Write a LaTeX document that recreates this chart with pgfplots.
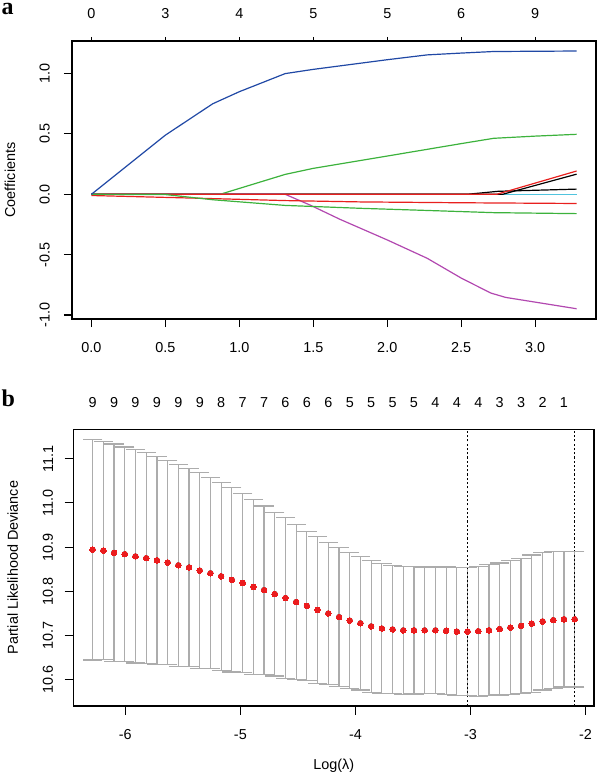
\documentclass[border=0pt]{standalone}
\usepackage{pgfplots}
\pgfplotsset{compat=1.18}
\usepackage{pgfplotstable}
\usepackage{fontspec}
\setmainfont{Liberation Sans}
\newfontfamily\panelfont{Liberation Serif}
\definecolor{cblue}{RGB}{32,72,165}
\definecolor{cgreen}{RGB}{60,178,60}
\definecolor{cred}{RGB}{232,32,30}
\definecolor{cmag}{RGB}{178,72,176}
\definecolor{ccyan}{RGB}{80,196,222}
\definecolor{errgray}{RGB}{172,172,172}
\definecolor{dotred}{RGB}{235,28,30}

\pgfplotstableread{
x m e
-6.284 10.894 0.249
-6.191 10.892 0.246
-6.098 10.887 0.246
-6.005 10.884 0.242
-5.912 10.879 0.241
-5.818 10.875 0.238
-5.725 10.870 0.235
-5.632 10.865 0.231
-5.539 10.859 0.228
-5.446 10.854 0.224
-5.353 10.847 0.221
-5.260 10.841 0.216
-5.167 10.834 0.212
-5.074 10.826 0.208
-4.980 10.819 0.202
-4.887 10.810 0.198
-4.794 10.803 0.190
-4.701 10.794 0.185
-4.608 10.785 0.181
-4.515 10.776 0.175
-4.422 10.767 0.169
-4.329 10.758 0.166
-4.236 10.750 0.161
-4.142 10.742 0.157
-4.049 10.734 0.154
-3.956 10.728 0.151
-3.863 10.721 0.149
-3.770 10.716 0.147
-3.677 10.714 0.145
-3.584 10.712 0.145
-3.491 10.712 0.144
-3.398 10.712 0.143
-3.304 10.712 0.143
-3.211 10.711 0.144
-3.118 10.709 0.145
-3.025 10.709 0.145
-2.932 10.710 0.147
-2.839 10.712 0.148
-2.746 10.715 0.149
-2.653 10.718 0.151
-2.560 10.722 0.153
-2.467 10.727 0.155
-2.373 10.732 0.155
-2.280 10.735 0.155
-2.187 10.737 0.153
-2.094 10.737 0.153
}\cvdata

\begin{document}
\begin{tikzpicture}[font=\fontsize{10.8}{13}\selectfont]
\path[use as bounding box] (0,0) rectangle (447.75pt,-581.25pt);

% ---------------- panel a ----------------
\begin{axis}[
  at={(54pt,-239.25pt)}, anchor=south west,
  width=393pt, height=208.5pt, scale only axis,
  xmin=-0.1312, xmax=3.4112, ymin=-1.033, ymax=1.27,
  axis line style={line width=0.8pt},
  tick style={black, line width=0.8pt},
  tick align=outside, major tick length=6pt,
  xtick pos=left, ytick pos=left,
  xtick={0,0.5,1,1.5,2,2.5,3},
  xticklabels={0.0,0.5,1.0,1.5,2.0,2.5,3.0},
  ytick={-1,-0.5,0,0.5,1},
  yticklabels={-1.0,-0.5,0.0,0.5,1.0},
  xticklabel style={anchor=north, inner sep=0pt},
  xticklabel shift=11.6pt,
  yticklabel style={rotate=90, anchor=south, inner sep=0pt},
  yticklabel shift=10.5pt,
  every axis y label/.style={at={(rel axis cs:0,0.5)}, xshift=-46.5pt, rotate=90, anchor=center},
  ylabel={Coefficients},
  every axis plot/.append style={line width=0.9pt},
]
\addplot[ccyan] coordinates {(0,0) (3.28,0)};
\addplot[black] coordinates {(0,0) (2.54,0) (2.75,0.025) (3.28,0.043)};
\addplot[black] coordinates {(0,0) (2.78,0) (3.28,0.167)};
\addplot[cgreen] coordinates {(0,0) (0.87,0) (1.31,0.165) (1.5,0.215) (2.0,0.317) (2.5,0.42) (2.72,0.464) (3.0,0.482) (3.28,0.497)};
\addplot[cmag] coordinates {(0,0) (1.31,0) (1.48,-0.09) (1.68,-0.207) (2.0,-0.378) (2.27,-0.53) (2.5,-0.694) (2.7,-0.818) (2.8,-0.854) (3.28,-0.948)};
\addplot[cred] coordinates {(0,0) (2.74,0) (3.28,0.193)};
\addplot[cred] coordinates {(0,-0.01) (0.74,-0.033) (1.31,-0.052) (1.82,-0.063) (2.5,-0.07) (3.28,-0.076)};
\addplot[cgreen] coordinates {(0,0) (0.5,-0.002) (0.82,-0.045) (1.31,-0.092) (1.82,-0.116) (2.3,-0.135) (2.72,-0.152) (3.28,-0.16)};
\addplot[cblue] coordinates {(0,0) (0.5,0.49) (0.82,0.75) (1.0,0.85) (1.31,1.0) (1.5,1.035) (2.0,1.115) (2.27,1.155) (2.5,1.17) (2.72,1.183) (3.28,1.187)};
\end{axis}
% top axis of panel a
\begin{axis}[
  at={(54pt,-239.25pt)}, anchor=south west,
  width=393pt, height=208.5pt, scale only axis,
  xmin=-0.1312, xmax=3.4112, ymin=-1.033, ymax=1.27,
  axis x line*=top, axis y line=none,
  axis line style={line width=0.8pt},
  tick style={black, line width=0.8pt},
  tick align=outside, major tick length=3pt,
  xtick={0,0.5,1,1.5,2,2.5,3},
  xticklabels={0,3,4,5,5,6,9},
  xticklabel style={anchor=south, inner sep=0pt},
  xticklabel shift=13.3pt,
]
\end{axis}
\node[anchor=base west, inner sep=0pt, font=\fontsize{18}{20}\panelfont\bfseries] at (1.1pt,-11pt) {a};

% ---------------- panel b ----------------
\begin{axis}[
  at={(55pt,-529.5pt)}, anchor=south west,
  width=390.5pt, height=207.5pt, scale only axis,
  xmin=-6.452, xmax=-1.926, ymin=10.541, ymax=11.166,
  axis line style={line width=0.8pt},
  tick style={black, line width=0.8pt},
  tick align=outside, major tick length=6.5pt,
  xtick pos=left, ytick pos=left,
  xtick={-6,-5,-4,-3,-2},
  xticklabels={-6,-5,-4,-3,-2},
  ytick={10.6,10.7,10.8,10.9,11.0,11.1},
  yticklabels={10.6,10.7,10.8,10.9,11.0,11.1},
  xticklabel style={anchor=north, inner sep=0pt},
  xticklabel shift=11pt,
  yticklabel style={rotate=90, anchor=south, inner sep=0pt},
  yticklabel shift=8.5pt,
  every axis y label/.style={at={(rel axis cs:0,0.5)}, xshift=-45.5pt, rotate=90, anchor=center},
  ylabel={Partial Likelihood Deviance},
  every axis x label/.style={at={(rel axis cs:0.5,0)}, yshift=-44.8pt, anchor=center},
  xlabel={Log(λ)},
]
% vertical error bars
\addplot[only marks, mark=none,
  error bars/.cd, y dir=both, y explicit, error mark=none,
  error bar style={errgray, line width=0.9pt}]
  table[x=x, y=m, y error=e] {\cvdata};
% caps
\addplot[errgray, only marks, mark=-, mark size=7.23pt, mark options={solid, draw=errgray, line width=0.9pt}]
  table[x=x, y expr=\thisrow{m}+\thisrow{e}] {\cvdata};
\addplot[errgray, only marks, mark=-, mark size=7.23pt, mark options={solid, draw=errgray, line width=0.9pt}]
  table[x=x, y expr=\thisrow{m}-\thisrow{e}] {\cvdata};
% means
\addplot[dotred, only marks, mark=*, mark size=2.1pt, mark options={fill=dotred, draw=dotred, line width=0pt}]
  table[x=x, y=m] {\cvdata};
% lambda.min and lambda.1se
\addplot[black, line width=0.8pt, dash pattern=on 1.6pt off 1.6pt] coordinates {(-3.025,10.541) (-3.025,11.166)};
\addplot[black, line width=0.8pt, dash pattern=on 1.6pt off 1.6pt] coordinates {(-2.094,10.541) (-2.094,11.166)};
\end{axis}
% top labels of panel b
\begin{axis}[
  at={(55pt,-529.5pt)}, anchor=south west,
  width=390.5pt, height=207.5pt, scale only axis,
  xmin=-6.452, xmax=-1.926, ymin=10.541, ymax=11.166,
  axis x line*=top, axis y line=none,
  axis line style={line width=0.8pt},
  major tick length=0pt,
  xtick={-6.284,-6.098,-5.912,-5.725,-5.539,-5.353,-5.167,-4.980,-4.794,-4.608,-4.422,-4.236,-4.049,-3.863,-3.677,-3.491,-3.304,-3.118,-2.932,-2.746,-2.560,-2.373,-2.187},
  xticklabels={9,9,9,9,9,9,8,7,7,6,6,6,5,5,5,5,4,4,4,3,3,2,1},
  xticklabel style={anchor=south, inner sep=0pt},
  xticklabel shift=16pt,
]
\end{axis}
\node[anchor=base west, inner sep=0pt, font=\fontsize{18}{20}\panelfont\bfseries] at (1.1pt,-305pt) {b};
\end{tikzpicture}
\end{document}
